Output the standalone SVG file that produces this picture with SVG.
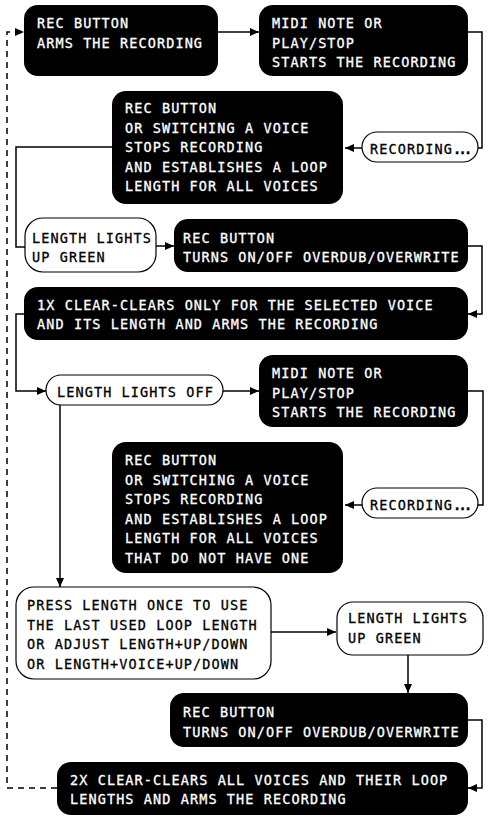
<svg xmlns="http://www.w3.org/2000/svg" width="490" height="820" viewBox="0 0 490 820">
<style>
.blk{fill:#000;}
.wht{fill:#fff;stroke:#000;stroke-width:1.2;}
text{font-family:"DejaVu Sans Mono","Liberation Mono",monospace;font-size:13.5px;letter-spacing:1.1px;stroke-width:0.3px;}
.tw{fill:#fff;stroke:#fff;}
.tb{fill:#000;stroke:#000;}
.dots{letter-spacing:-2.6px;font-weight:bold;}
.c{fill:none;stroke:#000;stroke-width:1.5;}
.d{stroke-dasharray:6,5;}
</style>
<defs>
<marker id="ah" markerUnits="userSpaceOnUse" markerWidth="9" markerHeight="8" refX="9" refY="4" orient="auto">
<path d="M0,0 L9,4 L0,8 z" fill="#000"/>
</marker>
</defs>
<rect width="490" height="820" fill="#fff"/>
<g id="connectors">
<path class="c" d="M218,32 H259" marker-end="url(#ah)"/>
<path class="c" d="M468,32 H482 V148 H478"/>
<path class="c" d="M362,148 H345" marker-end="url(#ah)"/>
<path class="c" d="M112,147 H16 V247 H25"/>
<path class="c" d="M156,246 H174" marker-end="url(#ah)"/>
<path class="c" d="M468,246 H482 V314 H468" marker-end="url(#ah)"/>
<path class="c" d="M24,314 H16 V391 H46" marker-end="url(#ah)"/>
<path class="c" d="M223,391 H259" marker-end="url(#ah)"/>
<path class="c" d="M468,391 H483 V505 H478"/>
<path class="c" d="M362,505 H345" marker-end="url(#ah)"/>
<path class="c" d="M60,405 V587" marker-end="url(#ah)"/>
<path class="c" d="M271,632 H336" marker-end="url(#ah)"/>
<path class="c" d="M408,655 V693" marker-end="url(#ah)"/>
<path class="c" d="M468,720 H482 V788 H468" marker-end="url(#ah)"/>
<path class="c d" d="M57,788 H7 V32 H24" marker-end="url(#ah)"/>
</g>
<g id="n1">
<rect class="blk" x="24" y="5" width="194" height="71" rx="14"/>
<text class="tw" x="37" y="28">REC BUTTON</text>
<text class="tw" x="37" y="48">ARMS THE RECORDING</text>
</g>
<g id="n2">
<rect class="blk" x="259" y="5" width="209" height="71" rx="14"/>
<text class="tw" x="272" y="28">MIDI NOTE OR</text>
<text class="tw" x="272" y="47.5">PLAY/STOP</text>
<text class="tw" x="272" y="67">STARTS THE RECORDING</text>
</g>
<g id="p1">
<rect class="wht" x="362" y="132" width="116" height="30" rx="15"/>
<text class="tb" x="370" y="154">RECORDING<tspan class="dots">...</tspan></text>
</g>
<g id="n3">
<rect class="blk" x="112" y="91" width="231" height="113" rx="14"/>
<text class="tw" x="125" y="113">REC BUTTON</text>
<text class="tw" x="125" y="132.5">OR SWITCHING A VOICE</text>
<text class="tw" x="125" y="152">STOPS RECORDING</text>
<text class="tw" x="125" y="171.5">AND ESTABLISHES A LOOP</text>
<text class="tw" x="125" y="191">LENGTH FOR ALL VOICES</text>
</g>
<g id="p2">
<rect class="wht" x="25" y="218" width="131" height="54" rx="18"/>
<text class="tb" x="32" y="243">LENGTH LIGHTS</text>
<text class="tb" x="32" y="262">UP GREEN</text>
</g>
<g id="n4">
<rect class="blk" x="174" y="219" width="294" height="53" rx="14"/>
<text class="tw" x="183" y="243">REC BUTTON</text>
<text class="tw" x="183" y="262">TURNS ON/OFF OVERDUB/OVERWRITE</text>
</g>
<g id="n5">
<rect class="blk" x="24" y="287" width="444" height="53" rx="14"/>
<text class="tw" x="37" y="310">1X CLEAR-CLEARS ONLY FOR THE SELECTED VOICE</text>
<text class="tw" x="37" y="329">AND ITS LENGTH AND ARMS THE RECORDING</text>
</g>
<g id="p3">
<rect class="wht" x="46" y="375" width="177" height="30" rx="15"/>
<text class="tb" x="57" y="396.5">LENGTH LIGHTS OFF</text>
</g>
<g id="n6">
<rect class="blk" x="259" y="355" width="209" height="72" rx="14"/>
<text class="tw" x="272" y="378">MIDI NOTE OR</text>
<text class="tw" x="272" y="397.5">PLAY/STOP</text>
<text class="tw" x="272" y="417">STARTS THE RECORDING</text>
</g>
<g id="p4">
<rect class="wht" x="362" y="488" width="116" height="30" rx="15"/>
<text class="tb" x="370" y="510">RECORDING<tspan class="dots">...</tspan></text>
</g>
<g id="n7">
<rect class="blk" x="112" y="442" width="231" height="131" rx="14"/>
<text class="tw" x="125" y="465">REC BUTTON</text>
<text class="tw" x="125" y="484.5">OR SWITCHING A VOICE</text>
<text class="tw" x="125" y="504">STOPS RECORDING</text>
<text class="tw" x="125" y="523.5">AND ESTABLISHES A LOOP</text>
<text class="tw" x="125" y="543">LENGTH FOR ALL VOICES</text>
<text class="tw" x="125" y="562.5">THAT DO NOT HAVE ONE</text>
</g>
<g id="n8">
<rect class="wht" x="16" y="587" width="255" height="92" rx="18"/>
<text class="tb" x="27" y="610">PRESS LENGTH ONCE TO USE</text>
<text class="tb" x="27" y="629.5">THE LAST USED LOOP LENGTH</text>
<text class="tb" x="27" y="649">OR ADJUST LENGTH+UP/DOWN</text>
<text class="tb" x="27" y="668.5">OR LENGTH+VOICE+UP/DOWN</text>
</g>
<g id="n9">
<rect class="wht" x="337" y="602" width="146" height="53" rx="16"/>
<text class="tb" x="348" y="623">LENGTH LIGHTS</text>
<text class="tb" x="348" y="643">UP GREEN</text>
</g>
<g id="n10">
<rect class="blk" x="170" y="693" width="298" height="54" rx="14"/>
<text class="tw" x="183" y="717">REC BUTTON</text>
<text class="tw" x="183" y="737">TURNS ON/OFF OVERDUB/OVERWRITE</text>
</g>
<g id="n11">
<rect class="blk" x="57" y="762" width="411" height="53" rx="14"/>
<text class="tw" x="70" y="785">2X CLEAR-CLEARS ALL VOICES AND THEIR LOOP</text>
<text class="tw" x="70" y="804">LENGTHS AND ARMS THE RECORDING</text>
</g>
</svg>
